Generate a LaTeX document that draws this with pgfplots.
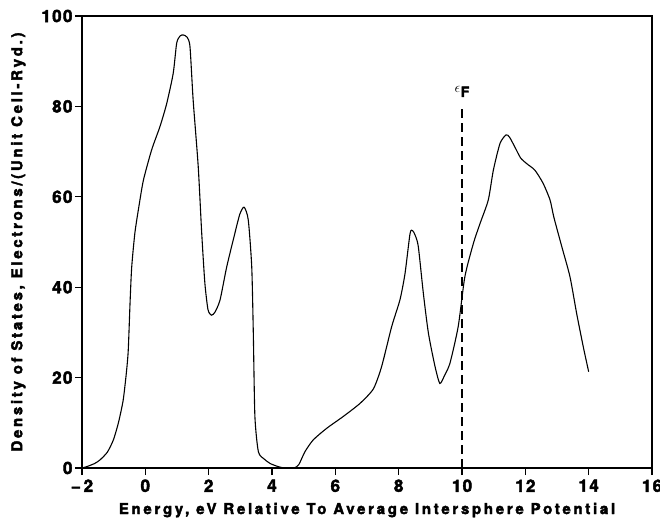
\documentclass[border=0pt]{standalone}
\usepackage{fontspec}
\setmainfont{TeX Gyre Heros}
\newfontfamily\tickfont{TeX Gyre Heros}[LetterSpace=8, FakeBold=2.5]
\newfontfamily\labfont{TeX Gyre Heros}[LetterSpace=18, FakeBold=2.5]
\usepackage{pgfplots}
\pgfplotsset{compat=1.18}
\begin{document}
\begin{tikzpicture}
\path[use as bounding box] (-82pt,-62pt) rectangle (578pt,468pt);
\begin{axis}[
  scale only axis,
  width=570pt, height=452pt,
  at={(0,0)}, anchor=south west,
  xmin=-2, xmax=16, ymin=0, ymax=100,
  xtick={-2,0,...,16}, ytick={0,20,...,100},
  minor tick num=0,
  tick align=outside,
  tick pos=left,
  major tick length=7pt,
  axis line style={line width=2.2pt},
  every tick/.style={line width=1.2pt, black},
  /pgf/number format/assume math mode=true,
  tick label style={font=\tickfont\fontsize{17}{18}\selectfont\bfseries},
  xticklabel style={yshift=-1pt},
  yticklabel style={xshift=1pt},
  xticklabels={{\textminus\,2},0,2,4,6,8,10,12,14,16},
  xlabel={Energy, eV Relative To Average Intersphere Potential},
  ylabel={Density of States, Electrons/(Unit Cell-Ryd.)},
  label style={font=\labfont\fontsize{15}{16}\selectfont\bfseries},
  xlabel style={yshift=-4pt},
  ylabel style={yshift=9pt},
  clip=false,
]
\addplot[black, line width=1.1pt, smooth, tension=0.4] coordinates {
(-2,0) (-1.85,0.3) (-1.6,1) (-1.43,1.8) (-1.2,3.5) (-1.01,6.2) (-0.85,10)
(-0.70,15) (-0.6,21) (-0.54,26) (-0.48,37) (-0.43,44.5) (-0.33,52) (-0.2,58)
(-0.06,63.7) (0.2,70.4) (0.46,75.5) (0.67,80.5) (0.88,87.3) (0.99,94)
(1.1,95.6) (1.2,95.8) (1.32,95.3) (1.41,93.2) (1.51,81.4) (1.67,66.7)
(1.78,52) (1.88,40.9) (1.98,35) (2.09,33.8) (2.2,34.5) (2.36,37.2) (2.57,44.5)
(2.83,52) (2.99,56.3) (3.12,57.7) (3.25,54.9) (3.36,44.5) (3.41,29.8)
(3.46,11.4) (3.57,3.6) (3.75,2) (3.94,1) (4.2,0.3) (4.4,0) (4.7,0) (4.85,0.8)
(5.04,3.6) (5.30,6.2) (5.73,8.8) (6.25,11.4) (6.78,14.3) (7.2,17.5)
(7.46,22.4) (7.78,31.3) (8.04,37.2) (8.2,43) (8.36,51.9) (8.44,52.5)
(8.52,51.5) (8.62,49) (8.78,38.6) (8.94,29.8) (9.15,22.4) (9.3,18.7)
(9.45,20.5) (9.62,23.2) (9.88,31.3) (10.09,42.3) (10.36,49.7) (10.57,54.1)
(10.83,59.3) (10.99,65.9) (11.2,71.8) (11.39,73.7) (11.5,73.2) (11.67,71)
(11.85,68.6) (12.05,67.3) (12.3,65.9) (12.56,63) (12.78,59.3) (12.9,55.5) (13.15,49)
(13.41,42.3) (13.62,34.2) (13.83,26.8) (14,21.3)
};
\addplot[black, line width=1.1pt, dash pattern=on 9pt off 5pt] coordinates {(10,0) (10,80)};
\node[font=\tickfont\fontsize{14}{15}\selectfont\bfseries, inner sep=0pt] at (axis cs:10,83.3) {\raisebox{0.6ex}{\fontsize{15}{15}\selectfont$\epsilon$}\kern0.3pt F};
\end{axis}
\end{tikzpicture}
\end{document}
